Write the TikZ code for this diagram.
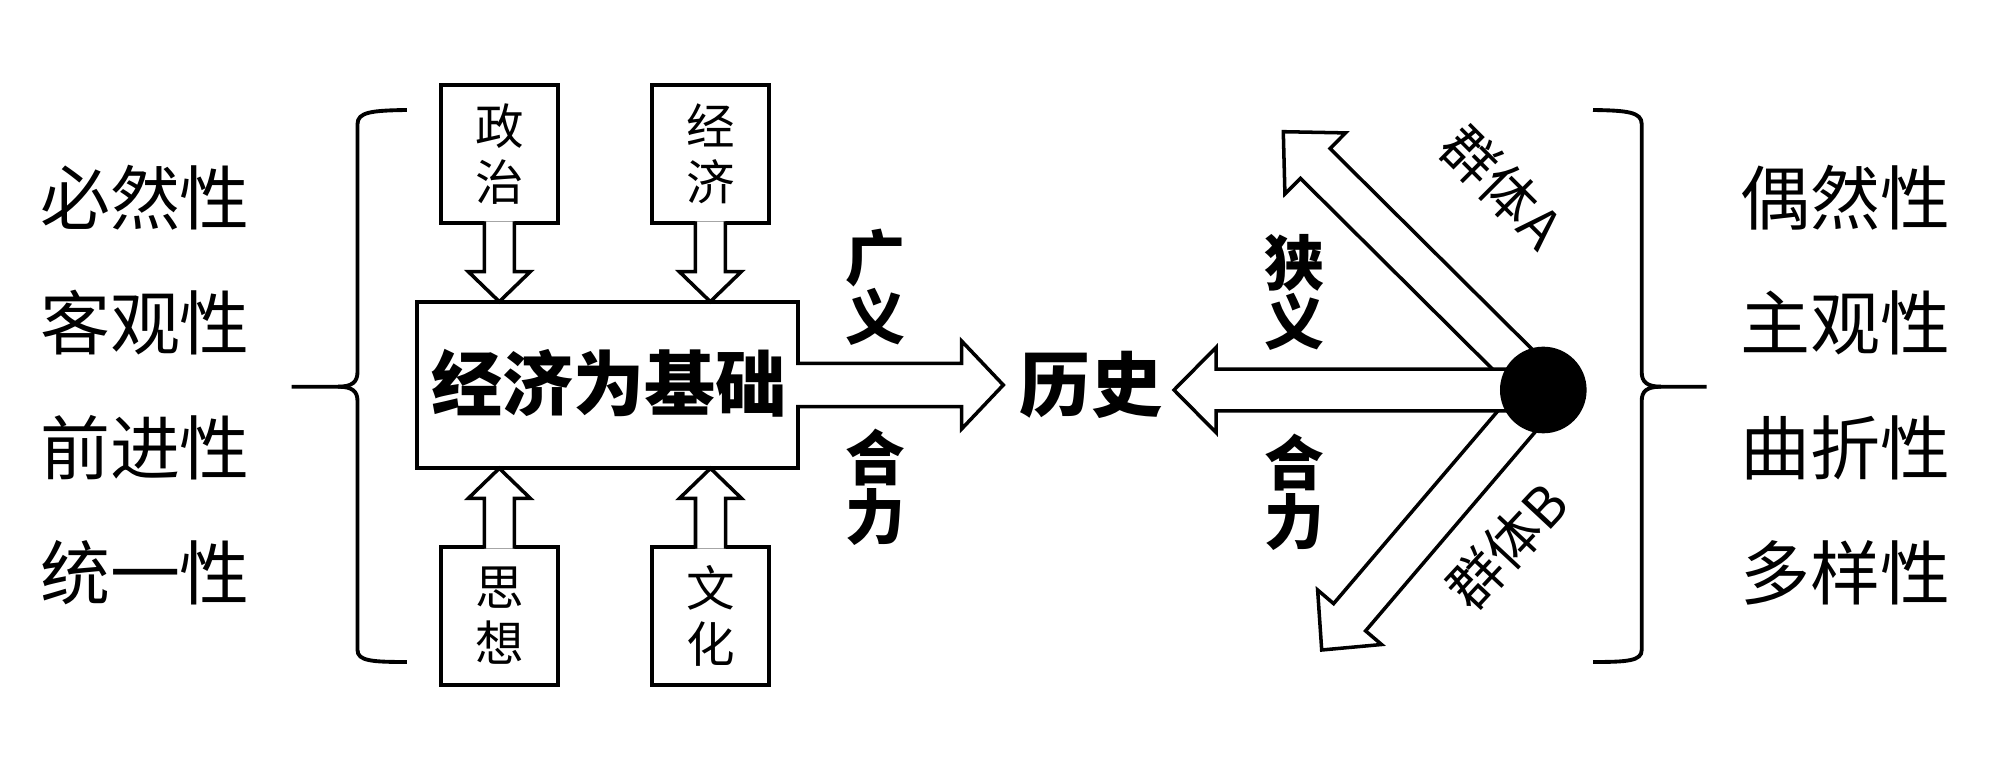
\documentclass[tikz,border=0pt]{standalone}
\usepackage{fontspec}
\setmainfont{Noto Sans CJK SC}
\usetikzlibrary{calc}
\newcommand\fatarrow[6][]{%
  \coordinate (fab) at ($(#3)!#6!(#2)$);
  \filldraw[fatarr,#1] ($(#2)!#4!90:(#3)$) -- ($(fab)!#4!90:(#3)$) -- ($(fab)!#5!90:(#3)$) -- (#3) -- ($(fab)!#5!-90:(#3)$) -- ($(fab)!#4!-90:(#3)$) -- ($(#2)!#4!-90:(#3)$);
}
\begin{document}
\begin{tikzpicture}[x=0.01cm,y=-0.01cm,
  side/.style={font=\fontsize{19.9pt}{24pt}\selectfont, inner sep=0},
  bigb/.style={font=\bfseries\fontsize{20.2pt}{24pt}\selectfont, inner sep=0},
  lab/.style={font=\bfseries\fontsize{17pt}{16.8pt}\selectfont, align=center, inner sep=0},
  smallbox/.style={draw, line width=1.1pt, fill=white, outer sep=0, inner sep=0,
     minimum width=1.172cm, minimum height=1.383cm, align=center,
     font=\fontsize{13.8pt}{15.93pt}\selectfont},
  mainbox/.style={draw, line width=1.1pt, fill=white, outer sep=0, inner sep=0,
     minimum width=3.804cm, minimum height=1.666cm},
  grp/.style={font=\fontsize{15.7pt}{18pt}\selectfont, inner sep=0},
  fatarr/.style={draw=black, fill=white, line width=1pt, line join=miter},
  brace/.style={draw=black, line width=1.1pt},
  dot/.style={circle, fill=black, minimum size=0.866cm, inner sep=0, outer sep=0}]
\useasboundingbox (0,0) rectangle (1999,764);

% side texts
\node[side] (l1) at (145,198) {必然性};
\node[side] (l2) at (145,323) {客观性};
\node[side] (l3) at (145,448) {前进性};
\node[side] (l4) at (145,573) {统一性};
\node[side] (r1) at (1845,198) {偶然性};
\node[side] (r2) at (1845,323) {主观性};
\node[side] (r3) at (1845,448) {曲折性};
\node[side] (r4) at (1845,573) {多样性};

% braces
\draw[brace] (406.8,110) .. controls (372,110.5) and (357.5,112) .. (357.5,124) -- (357.5,372) .. controls (357.5,382) and (352,386.7) .. (338,386.7) -- (291.7,386.7);
\draw[brace] (338,386.7) .. controls (352,386.7) and (357.5,391) .. (357.5,401) -- (357.5,650) .. controls (357.5,661) and (372,662) .. (406.8,662);
\draw[brace] (1593,110) .. controls (1627,110.5) and (1641.7,112) .. (1641.7,124) -- (1641.7,372) .. controls (1641.7,382) and (1647,386.7) .. (1661,386.7) -- (1706.7,386.7);
\draw[brace] (1661,386.7) .. controls (1647,386.7) and (1641.7,391) .. (1641.7,401) -- (1641.7,650) .. controls (1641.7,661) and (1627,662) .. (1593,662);

% boxes
\node[mainbox] (mb) at (607.7,385) {};
\node[bigb] (mbt) at (609,383) {经济为基础};
\node[smallbox] (zz) at (499.3,154.2) {政\\治};
\node[smallbox] (jj) at (710.3,154.2) {经\\济};
\node[smallbox] (sx) at (499.3,615.9) {思\\想};
\node[smallbox] (wh) at (710.5,615.9) {文\\化};

% small arrows
\coordinate (a1s) at ($(zz.south)+(0,-2)$);
\coordinate (a1t) at (zz.south |- mb.north);
\fatarrow{a1s}{a1t}{0.15cm}{0.31cm}{0.30cm}
\coordinate (a2s) at ($(jj.south)+(0,-2)$);
\coordinate (a2t) at (jj.south |- mb.north);
\fatarrow{a2s}{a2t}{0.15cm}{0.31cm}{0.30cm}
\coordinate (a3s) at ($(sx.north)+(0,2)$);
\coordinate (a3t) at (sx.north |- mb.south);
\fatarrow{a3s}{a3t}{0.15cm}{0.31cm}{0.30cm}
\coordinate (a4s) at ($(wh.north)+(0,2)$);
\coordinate (a4t) at (wh.north |- mb.south);
\fatarrow{a4s}{a4t}{0.15cm}{0.31cm}{0.30cm}

% main arrow to history
\node[bigb] (hs) at (1091,385) {历史};
\coordinate (m1s) at ($(mb.east)+(-2,0)$);
\coordinate (m1t) at (1003.3,385);
\fatarrow{m1s}{m1t}{0.217cm}{0.44cm}{0.417cm}
\node[lab] (gy) at (875,287) {广\\义};
\node[lab] (hl1) at (875,487) {合\\力};

% right side arrows
\coordinate (c) at (1543.3,390);
\coordinate (t2) at (1174,390);
\coordinate (t3) at (1283.3,131.7);
\coordinate (t4) at (1321.7,650);
\fatarrow{c}{t3}{0.21cm}{0.43cm}{0.45cm}
\fatarrow{c}{t4}{0.21cm}{0.42cm}{0.43cm}
\fatarrow{c}{t2}{0.208cm}{0.425cm}{0.42cm}
\node[dot] (cd) at (c) {};
\node[lab] (xy) at (1294,292) {狭\\义};
\node[lab] (hl2) at (1294,492) {合\\力};
\node[grp, rotate=-45] (ga) at (1502,187) {群体A};
\node[grp, rotate=47] (gb) at (1507,546) {群体B};
\end{tikzpicture}
\end{document}
